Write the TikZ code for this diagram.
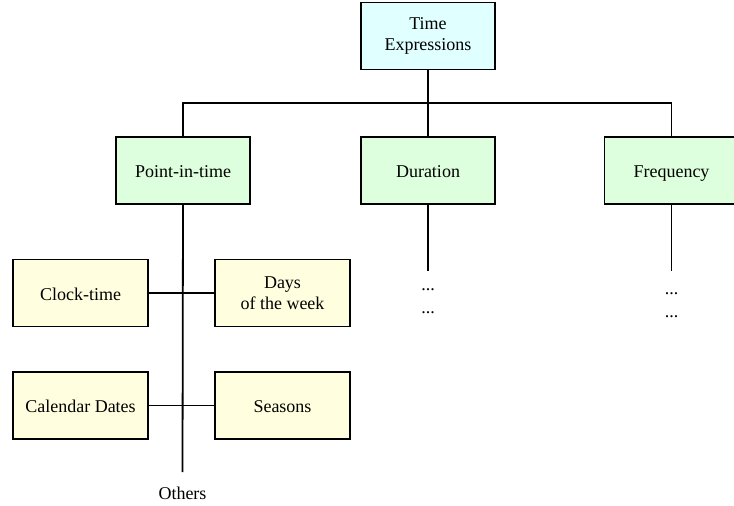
\documentclass[tikz,border=0pt]{standalone}
\usepackage{fontspec}
\setmainfont{Liberation Serif}
\definecolor{rootfill}{HTML}{E0FFFF}
\definecolor{catfill}{HTML}{DDFFDD}
\definecolor{subfill}{HTML}{FFFFE0}
\begin{document}
\begin{tikzpicture}[x=1pt,y=-1pt,
  every node/.style={font=\fontsize{18}{21}\selectfont},
  box/.style={draw=black,line width=1.8pt,rectangle,minimum width=134pt,minimum height=67pt,
    align=center,inner sep=0pt},
  oneline/.style={text height=14pt,text depth=0pt},
  rootbox/.style={box,fill=rootfill},
  catbox/.style={box,fill=catfill,oneline},
  subbox/.style={box,fill=subfill,minimum width=135pt},
  link/.style={line width=1.8pt,draw=black},
  dots/.style={inner sep=0pt,anchor=base}]
  \useasboundingbox (0,0) rectangle (734,506);
  \clip (0,0) rectangle (734,506);

  % root and first level
  \node[rootbox] (root) at (428,36) {Time\\Expressions};
  \node[catbox] (pit) at (183,170.5) {Point-in-time};
  \node[catbox] (dur) at (428,170.5) {Duration};
  \node[catbox] (freq) at (671.5,170.5) {Frequency};

  % kinds of point-in-time
  \node[subbox,oneline] (clock) at (80.5,293) {Clock-time};
  \node[subbox] (days) at (282.5,293) {Days\\of the week};
  \node[subbox,oneline] (cal) at (80.5,405.5) {Calendar Dates};
  \node[subbox,oneline] (seasons) at (282.5,405.5) {Seasons};
  \node[oneline,inner sep=0pt] (others) at (182.5,492.5) {Others};

  % open ends below duration and frequency
  \coordinate (bus) at (428,103);
  \coordinate (pitend) at (182.5,472);
  \coordinate (durend) at (428,271);
  \coordinate (freqend) at (671.5,271);
  \node[dots] (dd1) at (428,290) {...};
  \node[dots] (dd2) at (428,313) {...};
  \node[dots] (fd1) at (671.5,294) {...};
  \node[dots] (fd2) at (671.5,317) {...};

  % tree connectors
  \draw[link] (root.south) -- (bus);
  \draw[link] (pit.north) -- (pit.north |- bus) -- (freq.north |- bus) -- (freq.north);
  \draw[link] (dur.north) -- (dur.north |- bus);
  \draw[link] (pit.south) -- (pitend);
  \draw[link] (clock.east) -- (days.west);
  \draw[link] (cal.east) -- (seasons.west);
  \draw[link] (dur.south) -- (durend);
  \draw[link] (freq.south) -- (freqend);
\end{tikzpicture}
\end{document}
